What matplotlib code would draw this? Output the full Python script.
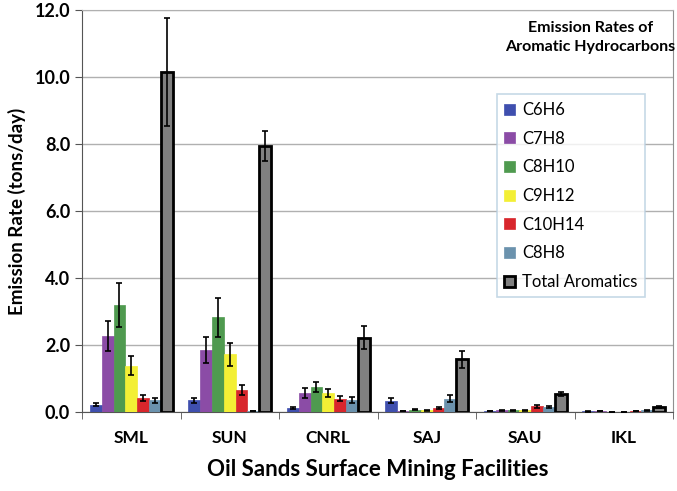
import numpy as np
import matplotlib.pyplot as plt

facilities = ['SML', 'SUN', 'CNRL', 'SAJ', 'SAU', 'IKL']
species = ['C6H6', 'C7H8', 'C8H10', 'C9H12', 'C10H14', 'C8H8', 'Total Aromatics']
colors = ['#3f4fae', '#8b4ca6', '#4f9a4f', '#f3ef35', '#d8262c', '#6b92ad', '#808080']

c6h6 = [0.22, 0.35, 0.12, 0.34, 0.03, 0.02]
c7h8 = [2.28, 1.85, 0.57, 0.02, 0.05, 0.03]
c8h10 = [3.20, 2.83, 0.75, 0.07, 0.05, 0.01]
c9h12 = [1.38, 1.72, 0.57, 0.05, 0.05, 0.01]
c10h14 = [0.42, 0.66, 0.40, 0.12, 0.17, 0.03]
c8h8 = [0.35, 0.02, 0.36, 0.40, 0.15, 0.05]
total = [10.15, 7.95, 2.22, 1.57, 0.55, 0.15]

c6h6_err = [0.04, 0.07, 0.03, 0.08, 0.01, 0.01]
c7h8_err = [0.45, 0.38, 0.14, 0.0, 0.01, 0.0]
c8h10_err = [0.65, 0.58, 0.14, 0.01, 0.01, 0.0]
c9h12_err = [0.28, 0.35, 0.12, 0.01, 0.01, 0.0]
c10h14_err = [0.08, 0.14, 0.08, 0.03, 0.04, 0.01]
c8h8_err = [0.07, 0.0, 0.08, 0.10, 0.03, 0.01]
total_err = [1.62, 0.45, 0.35, 0.25, 0.06, 0.03]

values = [c6h6, c7h8, c8h10, c9h12, c10h14, c8h8, total]
errors = [c6h6_err, c7h8_err, c8h10_err, c9h12_err, c10h14_err, c8h8_err, total_err]

plt.rcParams['font.family'] = ['Lato', 'DejaVu Sans']

fig = plt.figure(figsize=(6.77, 4.91), dpi=100)
ax = fig.add_axes([82/677, 1 - 412/491, 591/677, 402/491])

x = np.arange(len(facilities))
w = 0.12
for i, (name, vals, errs) in enumerate(zip(species, values, errors)):
    pos = x + (i - 3) * w
    is_total = name == 'Total Aromatics'
    ax.bar(pos, vals, w, color=colors[i], edgecolor='black' if is_total else colors[i],
           linewidth=2 if is_total else 0.5, label=name, zorder=3)
    ax.errorbar(pos, vals, yerr=errs, fmt='none', ecolor='black', elinewidth=1.2,
                capsize=2.5, capthick=1.2, zorder=4)

ax.set_xlim(-0.5, len(facilities) - 0.5)
ax.set_ylim(0, 12)
ax.set_yticks(np.arange(0, 12.1, 2))
ax.set_yticklabels(['%.1f' % v for v in np.arange(0, 12.1, 2)], fontsize=13, fontweight='bold')
ax.yaxis.grid(True, color='#b0b0b0', linewidth=1, zorder=0)

ax.set_xticks(x)
ax.set_xticklabels(facilities, fontsize=12.5, fontweight='bold')
ax.tick_params(axis='x', which='major', length=0, pad=13)
ax.set_xticks(np.arange(-0.5, len(facilities)), minor=True)
ax.tick_params(axis='x', which='minor', length=5, color='#555555')
ax.tick_params(axis='y', length=5, color='#555555')

ax.spines['top'].set_color('#b0b0b0')
ax.spines['right'].set_color('#909090')
for s in ['left', 'bottom']:
    ax.spines[s].set_color('#555555')

ax.set_ylabel('Emission Rate (tons/day)', fontsize=13.5, fontweight='bold', labelpad=6)
ax.set_xlabel('Oil Sands Surface Mining Facilities', fontsize=16, fontweight='bold', labelpad=9)

ax.text(0.86, 0.972, 'Emission Rates of\nAromatic Hydrocarbons', transform=ax.transAxes,
        ha='center', va='top', fontsize=11.5, fontweight='bold', linespacing=1.4)

leg = ax.legend(loc='upper left', bbox_to_anchor=(0.702, 0.79), fontsize=12,
                frameon=True, fancybox=False, handlelength=0.65, handleheight=0.65,
                labelspacing=0.76, borderpad=0.45, handletextpad=0.4, borderaxespad=0)
leg.get_frame().set_edgecolor('#b8cfe0')
leg.get_frame().set_linewidth(1.2)

fig.savefig('out.png', dpi=100)
